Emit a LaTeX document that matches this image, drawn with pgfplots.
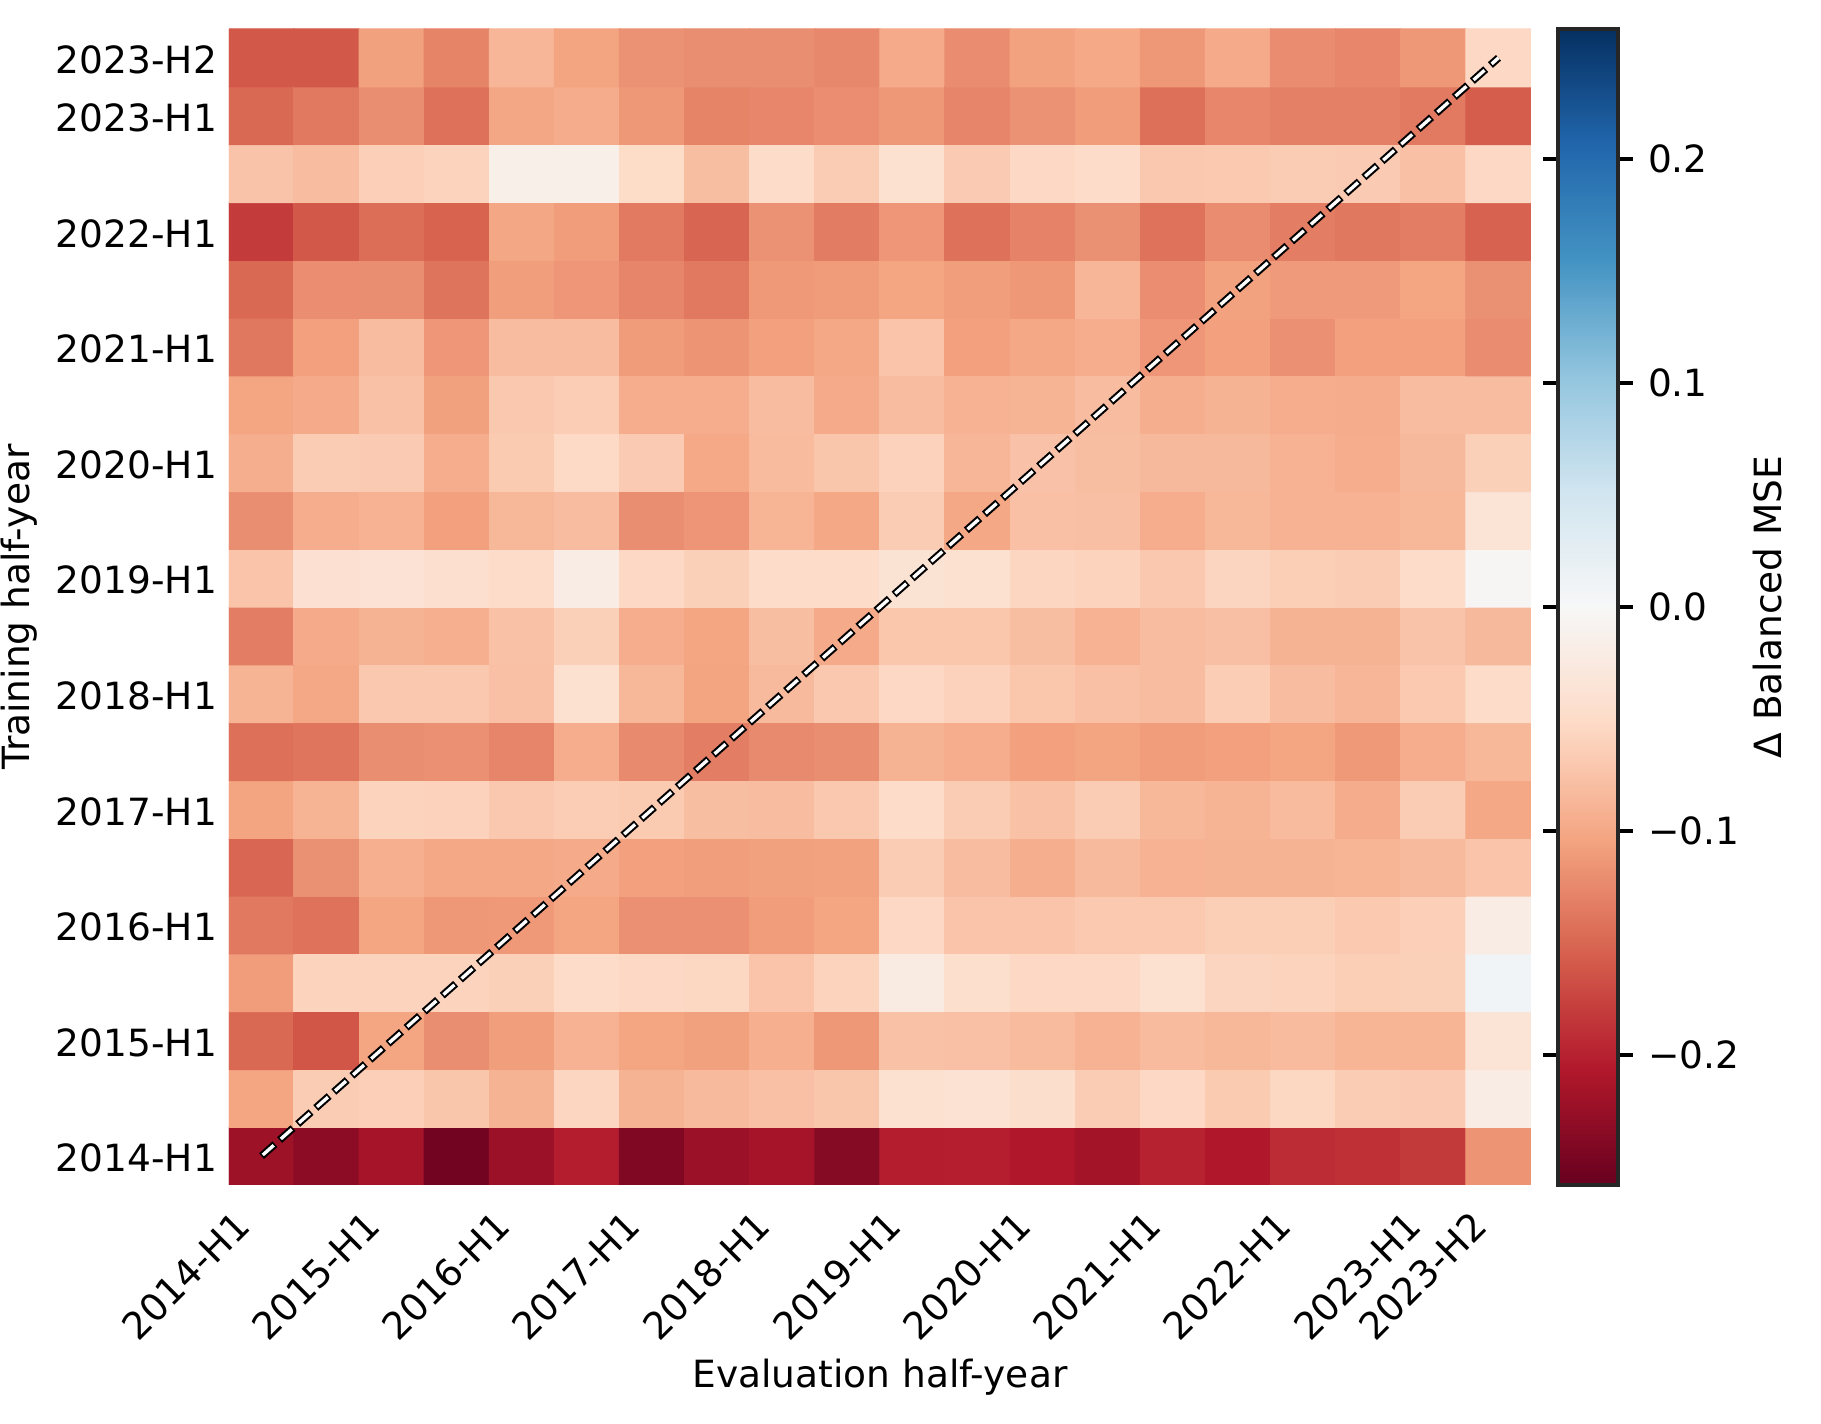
\documentclass[border=0pt]{standalone}
\usepackage{fontspec}
\setmainfont{DejaVu Sans}
\usepackage{pgfplots}
\pgfplotsset{compat=1.18}
\begin{document}
\fontsize{9}{10.8}\selectfont
\begin{tikzpicture}
\begin{axis}[
  at={(0,0)}, anchor=south west,
  font=\fontsize{9}{10.8}\selectfont,
  scale only axis, width=312.48pt, height=277.44pt,
  xmin=-0.5, xmax=19.5, ymin=-0.5, ymax=19.5,
  enlargelimits=false,
  axis line style={draw=none},
  major tick length=0pt,
  tick style={draw=none},
  xtick={0,2,4,6,8,10,12,14,16,18,19},
  ytick={0,2,4,6,8,10,12,14,16,18,19},
  xticklabels={2014-H1,2015-H1,2016-H1,2017-H1,2018-H1,2019-H1,2020-H1,2021-H1,2022-H1,2023-H1,2023-H2},
  yticklabels={2014-H1,2015-H1,2016-H1,2017-H1,2018-H1,2019-H1,2020-H1,2021-H1,2022-H1,2023-H1,2023-H2},
  every x tick label/.style={xshift=-7pt, yshift=-5.4pt, rotate=45, anchor=north east, inner sep=0pt},
  every y tick label/.style={xshift=-2.7pt, yshift=-0.5pt, anchor=east, inner sep=0pt},
  xlabel={Evaluation half-year},
  ylabel={Training half-year},
  every axis x label/.style={at={([yshift=-48.5pt]rel axis cs:0.5,0)}, anchor=base, inner sep=0pt},
  every axis y label/.style={at={([xshift=-47.8pt]rel axis cs:0,0.5)}, anchor=base, rotate=90, inner sep=0pt},
  colormap={RdBu}{rgb255=(103,0,31) rgb255=(178,24,43) rgb255=(214,96,77) rgb255=(244,165,130) rgb255=(253,219,199) rgb255=(247,247,247) rgb255=(209,229,240) rgb255=(146,197,222) rgb255=(67,147,195) rgb255=(33,102,172) rgb255=(5,48,97)},
  point meta min=-0.258, point meta max=0.258,
  colorbar,
  colorbar shift/.style={},
  colorbar style={
    at={(parent axis.north east)}, anchor=north west, xshift=6.48pt,
    scale only axis, width=14.4pt,
    ytick={-0.2,-0.1,0,0.1,0.2},
    yticklabels={−0.2,−0.1,0.0,0.1,0.2},
    major tick length=3.5pt,
    tick align=outside,
    tick style={draw=black, line width=0.8pt},
    axis line style={draw=black!85, line width=0.8pt},
    every y tick label/.style={anchor=west, inner sep=0pt, xshift=3.5pt},
    ylabel={Δ Balanced MSE},
    every axis y label/.style={at={([xshift=39.3pt]rel axis cs:1,0.5)}, anchor=base, rotate=90, inner sep=0pt},
  },
]
\addplot[matrix plot*, shader=faceted, faceted color=mapped color, line width=0.3pt, point meta=explicit, mesh/cols=20, mesh/rows=20] coordinates {
(0,0)[-0.220] (1,0)[-0.232] (2,0)[-0.215] (3,0)[-0.250] (4,0)[-0.222] (5,0)[-0.203] (6,0)[-0.241] (7,0)[-0.222] (8,0)[-0.215] (9,0)[-0.237] (10,0)[-0.203] (11,0)[-0.202] (12,0)[-0.208] (13,0)[-0.216] (14,0)[-0.199] (15,0)[-0.208] (16,0)[-0.192] (17,0)[-0.189] (18,0)[-0.182] (19,0)[-0.116]
(0,1)[-0.103] (1,1)[-0.066] (2,1)[-0.063] (3,1)[-0.072] (4,1)[-0.090] (5,1)[-0.056] (6,1)[-0.090] (7,1)[-0.083] (8,1)[-0.077] (9,1)[-0.072] (10,1)[-0.042] (11,1)[-0.039] (12,1)[-0.046] (13,1)[-0.066] (14,1)[-0.053] (15,1)[-0.068] (16,1)[-0.055] (17,1)[-0.066] (18,1)[-0.067] (19,1)[-0.020]
(0,2)[-0.148] (1,2)[-0.162] (2,2)[-0.103] (3,2)[-0.120] (4,2)[-0.108] (5,2)[-0.091] (6,2)[-0.103] (7,2)[-0.106] (8,2)[-0.093] (9,2)[-0.113] (10,2)[-0.076] (11,2)[-0.077] (12,2)[-0.082] (13,2)[-0.091] (14,2)[-0.082] (15,2)[-0.085] (16,2)[-0.082] (17,2)[-0.088] (18,2)[-0.088] (19,2)[-0.035]
(0,3)[-0.109] (1,3)[-0.058] (2,3)[-0.058] (3,3)[-0.058] (4,3)[-0.062] (5,3)[-0.049] (6,3)[-0.054] (7,3)[-0.055] (8,3)[-0.073] (9,3)[-0.058] (10,3)[-0.022] (11,3)[-0.045] (12,3)[-0.053] (13,3)[-0.053] (14,3)[-0.041] (15,3)[-0.057] (16,3)[-0.059] (17,3)[-0.064] (18,3)[-0.062] (19,3)[0.010]
(0,4)[-0.136] (1,4)[-0.141] (2,4)[-0.103] (3,4)[-0.113] (4,4)[-0.112] (5,4)[-0.103] (6,4)[-0.119] (7,4)[-0.119] (8,4)[-0.109] (9,4)[-0.103] (10,4)[-0.053] (11,4)[-0.073] (12,4)[-0.073] (13,4)[-0.069] (14,4)[-0.069] (15,4)[-0.064] (16,4)[-0.064] (17,4)[-0.069] (18,4)[-0.063] (19,4)[-0.020]
(0,5)[-0.150] (1,5)[-0.118] (2,5)[-0.093] (3,5)[-0.100] (4,5)[-0.100] (5,5)[-0.097] (6,5)[-0.107] (7,5)[-0.108] (8,5)[-0.106] (9,5)[-0.105] (10,5)[-0.066] (11,5)[-0.081] (12,5)[-0.094] (13,5)[-0.083] (14,5)[-0.091] (15,5)[-0.090] (16,5)[-0.090] (17,5)[-0.088] (18,5)[-0.083] (19,5)[-0.073]
(0,6)[-0.104] (1,6)[-0.089] (2,6)[-0.058] (3,6)[-0.060] (4,6)[-0.070] (5,6)[-0.065] (6,6)[-0.068] (7,6)[-0.079] (8,6)[-0.081] (9,6)[-0.070] (10,6)[-0.049] (11,6)[-0.066] (12,6)[-0.076] (13,6)[-0.066] (14,6)[-0.085] (15,6)[-0.089] (16,6)[-0.082] (17,6)[-0.096] (18,6)[-0.066] (19,6)[-0.100]
(0,7)[-0.143] (1,7)[-0.139] (2,7)[-0.120] (3,7)[-0.119] (4,7)[-0.127] (5,7)[-0.095] (6,7)[-0.123] (7,7)[-0.132] (8,7)[-0.123] (9,7)[-0.120] (10,7)[-0.090] (11,7)[-0.095] (12,7)[-0.107] (13,7)[-0.104] (14,7)[-0.109] (15,7)[-0.107] (16,7)[-0.103] (17,7)[-0.112] (18,7)[-0.095] (19,7)[-0.086]
(0,8)[-0.089] (1,8)[-0.100] (2,8)[-0.070] (3,8)[-0.070] (4,8)[-0.077] (5,8)[-0.041] (6,8)[-0.086] (7,8)[-0.104] (8,8)[-0.083] (9,8)[-0.070] (10,8)[-0.053] (11,8)[-0.060] (12,8)[-0.071] (13,8)[-0.077] (14,8)[-0.080] (15,8)[-0.065] (16,8)[-0.080] (17,8)[-0.087] (18,8)[-0.069] (19,8)[-0.049]
(0,9)[-0.133] (1,9)[-0.098] (2,9)[-0.090] (3,9)[-0.093] (4,9)[-0.076] (5,9)[-0.062] (6,9)[-0.095] (7,9)[-0.103] (8,9)[-0.079] (9,9)[-0.097] (10,9)[-0.071] (11,9)[-0.071] (12,9)[-0.079] (13,9)[-0.091] (14,9)[-0.080] (15,9)[-0.078] (16,9)[-0.090] (17,9)[-0.090] (18,9)[-0.074] (19,9)[-0.084]
(0,10)[-0.073] (1,10)[-0.040] (2,10)[-0.038] (3,10)[-0.044] (4,10)[-0.049] (5,10)[-0.020] (6,10)[-0.054] (7,10)[-0.062] (8,10)[-0.049] (9,10)[-0.049] (10,10)[-0.037] (11,10)[-0.041] (12,10)[-0.056] (13,10)[-0.058] (14,10)[-0.070] (15,10)[-0.057] (16,10)[-0.064] (17,10)[-0.066] (18,10)[-0.049] (19,10)[-0.003]
(0,11)[-0.120] (1,11)[-0.095] (2,11)[-0.091] (3,11)[-0.107] (4,11)[-0.086] (5,11)[-0.080] (6,11)[-0.120] (7,11)[-0.115] (8,11)[-0.088] (9,11)[-0.100] (10,11)[-0.066] (11,11)[-0.100] (12,11)[-0.077] (13,11)[-0.078] (14,11)[-0.095] (15,11)[-0.086] (16,11)[-0.091] (17,11)[-0.091] (18,11)[-0.085] (19,11)[-0.035]
(0,12)[-0.094] (1,12)[-0.066] (2,12)[-0.067] (3,12)[-0.095] (4,12)[-0.068] (5,12)[-0.052] (6,12)[-0.067] (7,12)[-0.099] (8,12)[-0.082] (9,12)[-0.072] (10,12)[-0.060] (11,12)[-0.087] (12,12)[-0.075] (13,12)[-0.079] (14,12)[-0.084] (15,12)[-0.084] (16,12)[-0.091] (17,12)[-0.095] (18,12)[-0.084] (19,12)[-0.062]
(0,13)[-0.103] (1,13)[-0.098] (2,13)[-0.076] (3,13)[-0.106] (4,13)[-0.070] (5,13)[-0.065] (6,13)[-0.095] (7,13)[-0.095] (8,13)[-0.080] (9,13)[-0.097] (10,13)[-0.080] (11,13)[-0.091] (12,13)[-0.089] (13,13)[-0.080] (14,13)[-0.094] (15,13)[-0.090] (16,13)[-0.095] (17,13)[-0.096] (18,13)[-0.081] (19,13)[-0.081]
(0,14)[-0.137] (1,14)[-0.107] (2,14)[-0.081] (3,14)[-0.114] (4,14)[-0.081] (5,14)[-0.081] (6,14)[-0.110] (7,14)[-0.116] (8,14)[-0.107] (9,14)[-0.100] (10,14)[-0.073] (11,14)[-0.107] (12,14)[-0.100] (13,14)[-0.095] (14,14)[-0.114] (15,14)[-0.107] (16,14)[-0.119] (17,14)[-0.107] (18,14)[-0.107] (19,14)[-0.122]
(0,15)[-0.148] (1,15)[-0.121] (2,15)[-0.120] (3,15)[-0.140] (4,15)[-0.108] (5,15)[-0.114] (6,15)[-0.127] (7,15)[-0.136] (8,15)[-0.112] (9,15)[-0.110] (10,15)[-0.103] (11,15)[-0.108] (12,15)[-0.113] (13,15)[-0.087] (14,15)[-0.121] (15,15)[-0.105] (16,15)[-0.111] (17,15)[-0.111] (18,15)[-0.103] (19,15)[-0.118]
(0,16)[-0.181] (1,16)[-0.160] (2,16)[-0.144] (3,16)[-0.152] (4,16)[-0.101] (5,16)[-0.109] (6,16)[-0.135] (7,16)[-0.151] (8,16)[-0.117] (9,16)[-0.134] (10,16)[-0.114] (11,16)[-0.142] (12,16)[-0.129] (13,16)[-0.118] (14,16)[-0.141] (15,16)[-0.122] (16,16)[-0.133] (17,16)[-0.137] (18,16)[-0.132] (19,16)[-0.153]
(0,17)[-0.074] (1,17)[-0.081] (2,17)[-0.063] (3,17)[-0.058] (4,17)[-0.015] (5,17)[-0.015] (6,17)[-0.050] (7,17)[-0.079] (8,17)[-0.049] (9,17)[-0.066] (10,17)[-0.042] (11,17)[-0.067] (12,17)[-0.054] (13,17)[-0.049] (14,17)[-0.070] (15,17)[-0.069] (16,17)[-0.066] (17,17)[-0.067] (18,17)[-0.077] (19,17)[-0.053]
(0,18)[-0.148] (1,18)[-0.136] (2,18)[-0.120] (3,18)[-0.142] (4,18)[-0.101] (5,18)[-0.096] (6,18)[-0.113] (7,18)[-0.128] (8,18)[-0.126] (9,18)[-0.121] (10,18)[-0.113] (11,18)[-0.127] (12,18)[-0.117] (13,18)[-0.109] (14,18)[-0.143] (15,18)[-0.126] (16,18)[-0.131] (17,18)[-0.131] (18,18)[-0.135] (19,18)[-0.157]
(0,19)[-0.160] (1,19)[-0.160] (2,19)[-0.106] (3,19)[-0.128] (4,19)[-0.087] (5,19)[-0.104] (6,19)[-0.117] (7,19)[-0.120] (8,19)[-0.120] (9,19)[-0.125] (10,19)[-0.098] (11,19)[-0.122] (12,19)[-0.105] (13,19)[-0.099] (14,19)[-0.113] (15,19)[-0.097] (16,19)[-0.122] (17,19)[-0.126] (18,19)[-0.113] (19,19)[-0.054]
};
\addplot[black, line width=1.8pt, dash pattern=on 4.3pt off 1.5pt, forget plot] coordinates {(0,0) (19,19)};
\addplot[white, line width=0.8pt, dash pattern=on 3.5pt off 2.3pt, dash phase=5.4pt, forget plot] coordinates {(0,0) (19,19)};
\end{axis}
\path (-54.96pt,-57.36pt) rectangle (382.08pt,284.4pt);
\end{tikzpicture}
\end{document}
